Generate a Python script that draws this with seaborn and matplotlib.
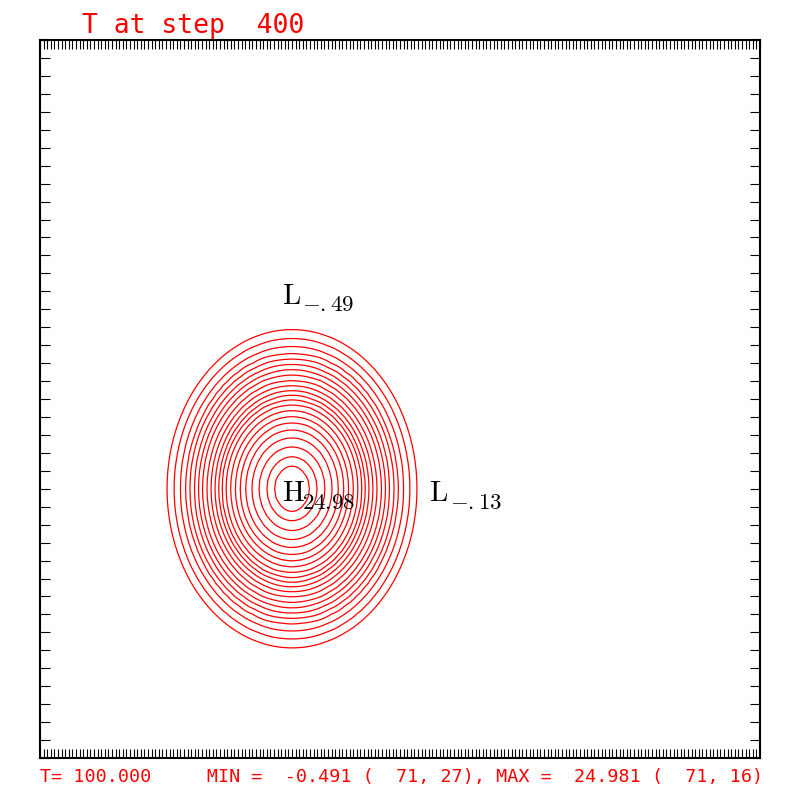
import numpy as np
import matplotlib
matplotlib.use("Agg")
import matplotlib.pyplot as plt
import seaborn as sns

# model grid (i = 1..NX, j = 1..NY)
NX, NY = 201, 41
STEP = 400
TIME = 100.000

# warm blob: centre and half widths (grid units)
CENTER_I, CENTER_J = 71, 16
HALF_I, HALF_J = 34.7, 8.86

# radial profile of T (distance as fraction of the half width)
PROFILE_R = [0.0, 0.138, 0.201, 0.264, 0.321, 0.371, 0.415, 0.453, 0.491,
             0.528, 0.560, 0.585, 0.616, 0.648, 0.679, 0.717, 0.748, 0.780,
             0.818, 0.849, 0.893, 0.943, 1.0, 1.06, 1.5]
PROFILE_T = [24.98, 22, 21, 20, 19, 18, 17, 16, 15,
             14, 13, 12, 11, 10, 9, 8, 7, 6,
             5, 4, 3, 2, 1, 0.0, -0.4]

CONTOUR_LEVELS = list(range(1, 23))

# extrema labels
EXT_KIND = ["H", "L", "L"]
EXT_I = [71, 71, 112]
EXT_J = [16, 27, 16]
EXT_TXT = ["24.98", "{-}.49", "{-}.13"]

T_MIN, MIN_IJ = -0.491, (71, 27)
T_MAX, MAX_IJ = 24.981, (71, 16)

sns.set_style("white")
plt.rcParams["mathtext.fontset"] = "cm"

# build the field from the profile (half-cell sampling in j)
gi = np.arange(1, NX + 1)
gj = np.arange(1, NY + 0.01, 0.5)
ii, jj = np.meshgrid(gi, gj)
rr = np.hypot((ii - CENTER_I) / HALF_I, (jj - CENTER_J) / HALF_J)
field = np.interp(rr, PROFILE_R, PROFILE_T)

fig = plt.figure(figsize=(8, 8), dpi=100)
ax = fig.add_axes([0.05, 0.0525, 0.90, 0.8975])

ax.contour(ii, jj, field, levels=CONTOUR_LEVELS, colors="red", linewidths=0.9)

for kind, i, j, txt in zip(EXT_KIND, EXT_I, EXT_J, EXT_TXT):
    ax.annotate(r"$\mathrm{%s}$" % kind, xy=(i, j), xytext=(-7.5, -9),
                textcoords="offset points", ha="left", va="baseline",
                fontsize=21, color="black")
    ax.annotate(r"$%s$" % txt, xy=(i, j), xytext=(7.5, -14.5),
                textcoords="offset points", ha="left", va="baseline",
                fontsize=16.5, color="black")

ax.set_xlim(1, NX)
ax.set_ylim(1, NY)
ax.set_xticks(np.arange(1, NX + 1))
ax.set_yticks(np.arange(1, NY + 1))
ax.tick_params(axis="x", direction="in", length=6.5, width=0.8, color="black",
               top=True, bottom=True, labelbottom=False, labeltop=False)
ax.tick_params(axis="y", direction="in", length=7.5, width=0.8, color="black",
               left=True, right=True, labelleft=False, labelright=False)
for sp in ax.spines.values():
    sp.set_color("black")
    sp.set_linewidth(1.5)

mono = ["DejaVu Sans Mono"]
fig.text(0.102, 0.959, f"T at step {STEP:4d}", color="red", fontsize=19,
         family=mono, ha="left", va="baseline")
bottom = (f"T={TIME:8.3f}     MIN = {T_MIN:7.3f} ({MIN_IJ[0]:4d},{MIN_IJ[1]:3d}), "
          f"MAX = {T_MAX:7.3f} ({MAX_IJ[0]:4d},{MAX_IJ[1]:3d})")
fig.text(0.05, 0.0225, bottom, color="red", fontsize=13.2, family=mono,
         ha="left", va="baseline")

fig.savefig("out.png", dpi=100)
